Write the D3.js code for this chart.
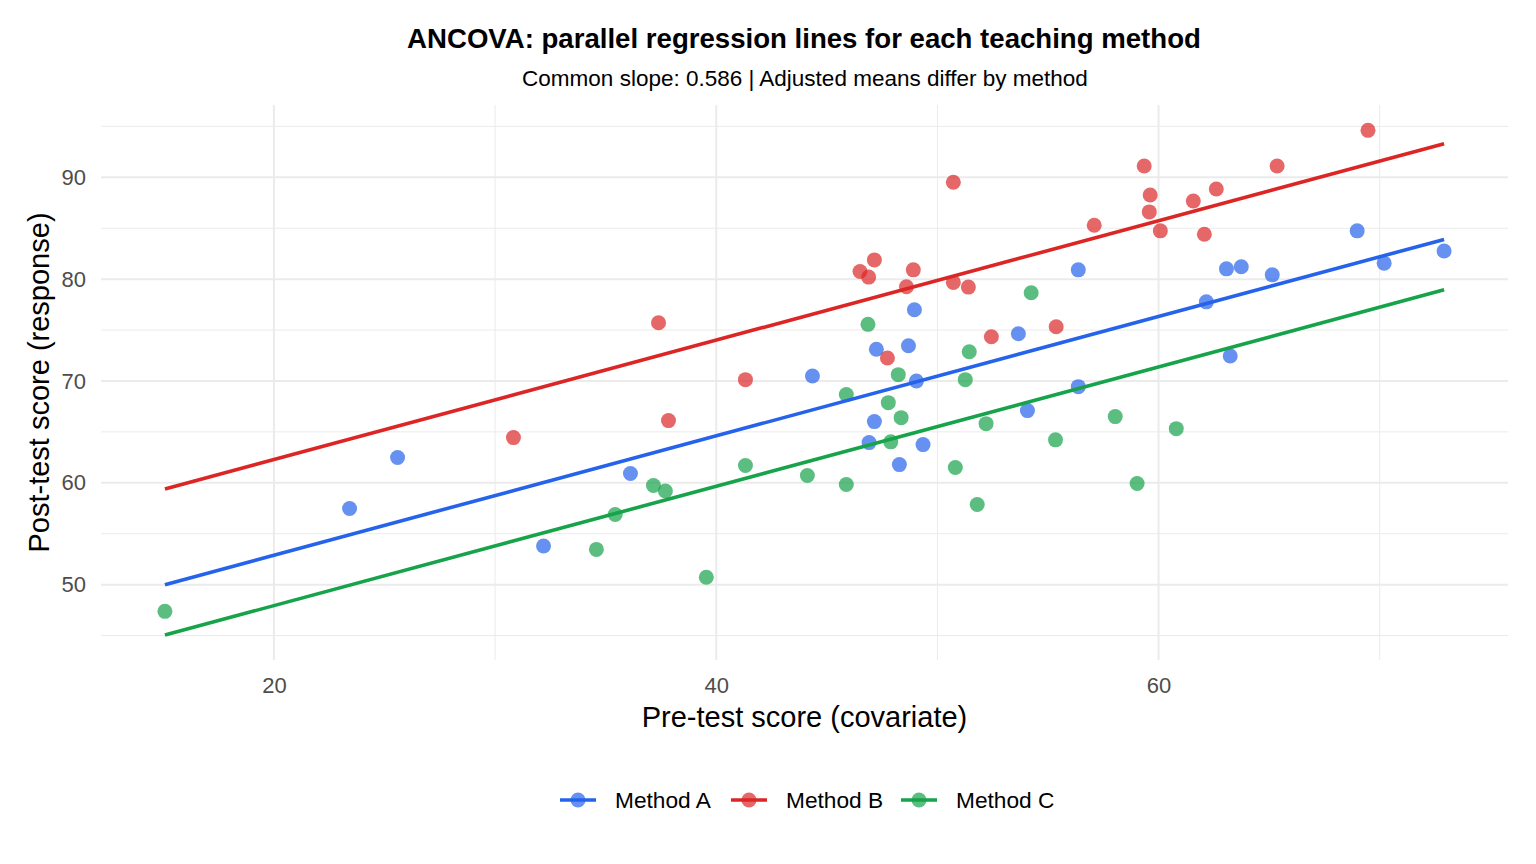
<!DOCTYPE html>
<html>
<head>
<meta charset="utf-8">
<script src="https://cdn.jsdelivr.net/npm/d3@7"></script>
<style>
  html, body { margin: 0; padding: 0; background: #fff; }
  svg text { font-family: 'Liberation Sans', Arial, sans-serif; }
</style>
</head>
<body>
<div id="chart"></div>
<script>
// ANCOVA scatter: post-test vs pre-test, one fitted line per method (common slope)

const methods = ['Method A', 'Method B', 'Method C'];
const lineColors = ['#2563EB', '#DC2626', '#16A34A'];

// points: [pre, post]
const pointsA = [
  [23.42, 57.48], [25.59, 62.48], [32.19, 53.79], [36.12, 60.91], [44.35, 70.49],
  [46.91, 63.95], [47.15, 66.01], [47.24, 73.11], [48.28, 61.79], [48.69, 73.46],
  [48.96, 76.99], [49.05, 70.00], [49.35, 63.75], [53.66, 74.64], [54.07, 67.09],
  [56.37, 80.91], [56.37, 69.44], [62.16, 77.77], [63.07, 81.01], [63.24, 72.45],
  [63.74, 81.21], [65.14, 80.42], [68.98, 84.74], [70.20, 81.57], [72.91, 82.77]
];
const pointsB = [
  [30.83, 64.44], [37.39, 75.72], [37.84, 66.11], [41.32, 70.13], [46.50, 80.75],
  [46.89, 80.20], [47.15, 81.89], [47.74, 72.25], [48.60, 79.25], [48.91, 80.91],
  [50.72, 89.51], [50.72, 79.68], [51.40, 79.22], [52.44, 74.34], [55.37, 75.32],
  [57.09, 85.29], [59.35, 91.11], [59.62, 88.26], [59.58, 86.60], [60.08, 84.74],
  [61.57, 87.68], [62.07, 84.41], [62.61, 88.85], [65.36, 91.11], [69.47, 94.61]
];
const pointsC = [
  [15.07, 47.38], [34.58, 53.46], [35.43, 56.89], [37.16, 59.74], [37.70, 59.19],
  [39.55, 50.72], [41.32, 61.70], [44.12, 60.72], [45.88, 59.83], [45.88, 68.66],
  [46.86, 75.56], [47.78, 67.87], [48.23, 70.62], [48.36, 66.40], [47.89, 64.02],
  [50.81, 61.50], [51.44, 72.87], [51.26, 70.13], [51.80, 57.87], [52.20, 65.81],
  [54.24, 78.66], [55.34, 64.22], [58.04, 66.50], [59.03, 59.93], [60.80, 65.32]
];

// fitted lines, endpoints at min / max pre-test score
const fitX = [15.07, 72.91];
const fitA = [50.0, 83.9];
const fitB = [59.4, 93.3];
const fitC = [45.05, 78.95];

const xTicks = [20, 40, 60];
const yTicks = [50, 60, 70, 80, 90];
const xMinor = [30, 50, 70];
const yMinor = [45, 55, 65, 75, 85, 95];

const title = 'ANCOVA: parallel regression lines for each teaching method';
const subtitle = 'Common slope: 0.586 | Adjusted means differ by method';
const xLabel = 'Pre-test score (covariate)';
const yLabel = 'Post-test score (response)';

(function () {
  const W = 1536, H = 864;
  const margin = { top: 105, right: 28, bottom: 204, left: 101 };
  const innerW = W - margin.left - margin.right;
  const innerH = H - margin.top - margin.bottom;

  const svg = d3.select('#chart').append('svg').attr('width', W).attr('height', H);
  const g = svg.append('g').attr('transform', `translate(${margin.left},${margin.top})`);

  const x = d3.scaleLinear().domain([12.18, 75.8]).range([0, innerW]);
  const y = d3.scaleLinear().domain([42.6, 97.1]).range([innerH, 0]);

  // grid
  g.selectAll('.gxm').data(xMinor).enter().append('line')
    .attr('x1', d => x(d)).attr('x2', d => x(d)).attr('y1', 0).attr('y2', innerH)
    .attr('stroke', '#ebebeb').attr('stroke-width', 1);
  g.selectAll('.gym').data(yMinor).enter().append('line')
    .attr('y1', d => y(d)).attr('y2', d => y(d)).attr('x1', 0).attr('x2', innerW)
    .attr('stroke', '#ebebeb').attr('stroke-width', 1);
  g.selectAll('.gx').data(xTicks).enter().append('line')
    .attr('x1', d => x(d)).attr('x2', d => x(d)).attr('y1', 0).attr('y2', innerH)
    .attr('stroke', '#ebebeb').attr('stroke-width', 2);
  g.selectAll('.gy').data(yTicks).enter().append('line')
    .attr('y1', d => y(d)).attr('y2', d => y(d)).attr('x1', 0).attr('x2', innerW)
    .attr('stroke', '#ebebeb').attr('stroke-width', 2);

  // axes (labels only, ggplot minimal style)
  const ax = g.append('g').attr('transform', `translate(0,${innerH})`)
    .call(d3.axisBottom(x).tickValues(xTicks).tickSize(0).tickPadding(17));
  const ay = g.append('g')
    .call(d3.axisLeft(y).tickValues(yTicks).tickSize(0).tickPadding(15));
  [ax, ay].forEach(a => {
    a.select('.domain').remove();
    a.selectAll('text').style('font-size', '22px').style('fill', '#4d4d4d')
      .style('font-family', "'Liberation Sans', Arial, sans-serif");
  });

  // points then lines
  const sets = [pointsA, pointsB, pointsC];
  const fits = [fitA, fitB, fitC];
  sets.forEach((pts, i) => {
    g.append('g').selectAll('circle').data(pts).enter().append('circle')
      .attr('cx', d => x(d[0])).attr('cy', d => y(d[1])).attr('r', 7.5)
      .attr('fill', lineColors[i]).attr('fill-opacity', 0.7);
  });
  const line = d3.line().x(d => x(d[0])).y(d => y(d[1]));
  fits.forEach((f, i) => {
    g.append('path').datum(fitX.map((xv, k) => [xv, f[k]]))
      .attr('fill', 'none').attr('stroke', lineColors[i]).attr('stroke-width', 3.6)
      .attr('d', line);
  });

  // titles
  svg.append('text').attr('x', 804).attr('y', 48).attr('text-anchor', 'middle')
    .style('font-size', '27.6px').style('font-weight', 'bold').style('fill', '#000').text(title);
  svg.append('text').attr('x', 805).attr('y', 86).attr('text-anchor', 'middle')
    .style('font-size', '22.5px').style('fill', '#000').text(subtitle);
  svg.append('text').attr('x', margin.left + innerW / 2).attr('y', 727).attr('text-anchor', 'middle')
    .style('font-size', '29px').style('fill', '#000').text(xLabel);
  svg.append('text').attr('transform', `translate(49,${margin.top + innerH / 2}) rotate(-90)`)
    .attr('text-anchor', 'middle').style('font-size', '29px').style('fill', '#000').text(yLabel);

  // legend
  const legX = [560, 731, 901];
  const lg = svg.append('g').attr('transform', 'translate(0,800)');
  methods.forEach((m, i) => {
    const k = lg.append('g').attr('transform', `translate(${legX[i]},0)`);
    k.append('line').attr('x1', 0).attr('x2', 36).attr('y1', 0).attr('y2', 0)
      .attr('stroke', lineColors[i]).attr('stroke-width', 3.6);
    k.append('circle').attr('cx', 18).attr('cy', 0).attr('r', 7.5)
      .attr('fill', lineColors[i]).attr('fill-opacity', 0.7);
    k.append('text').attr('x', 55).attr('y', 8).style('font-size', '22.7px').style('fill', '#000').text(m);
  });
})();
</script>
</body>
</html>
